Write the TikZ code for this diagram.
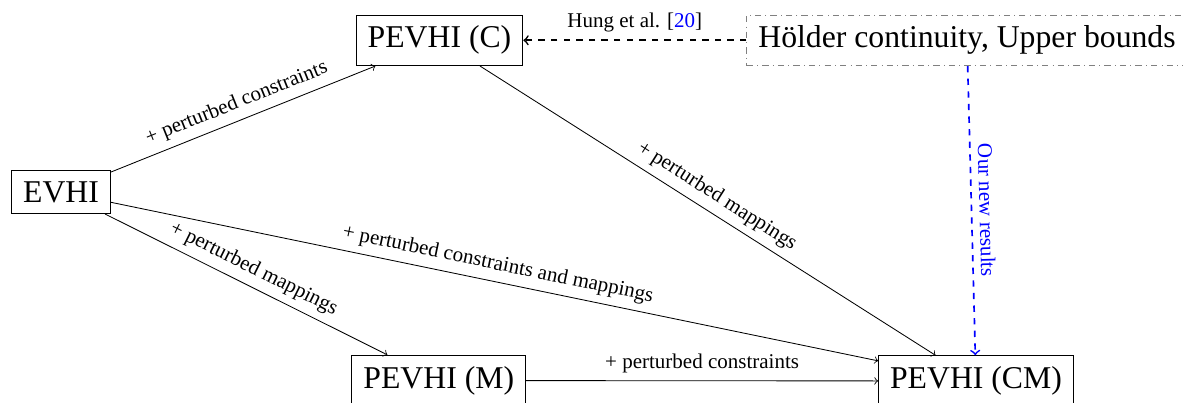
\documentclass[tikz,border=0pt]{standalone}
\usepackage{fontspec}
\setmainfont{Liberation Serif}
\tikzset{
  box/.style={draw, font=\fontsize{15.1}{18}\selectfont, inner xsep=5.5pt, inner ysep=5.2pt},
  lab/.style={midway, above, sloped},
}
\begin{document}
\begin{tikzpicture}[x=0.476pt,y=0.476pt]
\useasboundingbox (0,0) rectangle (1183,-402);
% boxes
\node[box] (evhi) at (61,-192) {EVHI};
\node[box] (pc) at (439.5,-40.3) {PEVHI (C)};
\node[box] (pm) at (438.8,-380.5) {PEVHI (M)};
\node[box] (pcm) at (976,-381) {PEVHI (CM)};
\node[box, draw=gray, dashdotted] (holder) at (967,-40.3) {Hölder continuity, Upper bounds};
% connectors
\draw[->] (evhi) -- (pc) node[lab] {+ perturbed constraints};
\draw[->] (evhi) -- (pm) node[lab] {+ perturbed mappings};
\draw[->] (evhi) -- (pcm) node[lab] {+ perturbed constraints and mappings};
\draw[->] (pc) -- (pcm) node[lab] {+ perturbed mappings};
\draw[->] (pm) -- (pcm) node[lab] {+ perturbed constraints};
\draw[->, dashed, thick] (holder) -- (pc) node[midway, above] {Hung et al. [\textcolor{blue}{20}]};
\draw[->, dashed, thick, blue] (holder) -- (pcm) node[lab] {Our new results};
\end{tikzpicture}
\end{document}
